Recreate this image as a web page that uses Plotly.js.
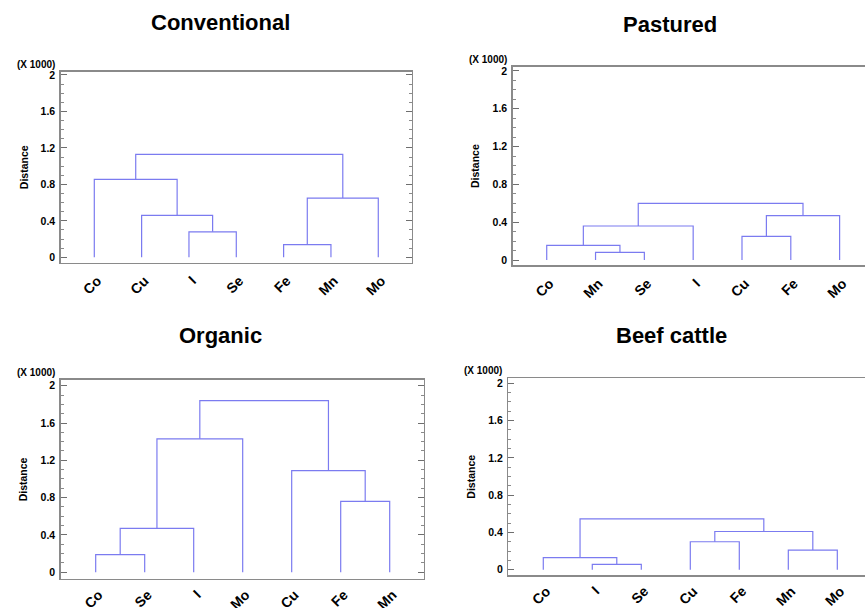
<!DOCTYPE html>
<html>
<head>
<meta charset="utf-8">
<script src="https://cdn.plot.ly/plotly-3.0.1.min.js"></script>
<style>html,body{margin:0;padding:0;background:#fff}#chart{width:865px;height:608px}</style>
</head>
<body>
<div id="chart"></div>
<script>
// ---- Data (distance in units of 1000) ----
const panelTitles = ["Conventional", "Pastured", "Organic", "Beef cattle"];

const conventionalLeaves = ["Co", "Cu", "I", "Se", "Fe", "Mn", "Mo"];
// merges: [childA, childB, height]; leaves 0..6, clusters 7+
const conventionalMerges = [[4, 5, 0.14], [2, 3, 0.28], [1, 8, 0.46], [7, 6, 0.65], [0, 9, 0.855], [11, 10, 1.13]];

const pasturedLeaves = ["Co", "Mn", "Se", "I", "Cu", "Fe", "Mo"];
const pasturedMerges = [[1, 2, 0.08], [0, 7, 0.155], [4, 5, 0.25], [8, 3, 0.36], [9, 6, 0.47], [10, 11, 0.60]];

const organicLeaves = ["Co", "Se", "I", "Mo", "Cu", "Fe", "Mn"];
const organicMerges = [[0, 1, 0.19], [7, 2, 0.47], [5, 6, 0.76], [4, 9, 1.09], [8, 3, 1.43], [11, 10, 1.84]];

const beefLeaves = ["Co", "I", "Se", "Cu", "Fe", "Mn", "Mo"];
const beefMerges = [[1, 2, 0.057], [0, 7, 0.13], [5, 6, 0.21], [3, 4, 0.30], [10, 9, 0.41], [8, 11, 0.545]];

const yTickVals = [0, 0.4, 0.8, 1.2, 1.6, 2];
const yTickText = ["0", "0.4", "0.8", "1.2", "1.6", "2"];

// ---- Styling / layout ----
const W = 865, H = 608;
const FONT = "Liberation Sans, Arial, Helvetica, sans-serif";
const LINK_COLOR = "#7b7bf0";
const FRAME = "#8a8a8a";

// pixel boxes: [left, right, top, bottom], x range, y range
const boxes = [
  {l: 60.7, r: 411.7, t: 71.7, b: 262.7, xr: [0.29, 7.706], yr: [-0.059, 2.036], mirrorY: true, titleX: 221, titleY: 23, distX: 24, stand: 3},
  {l: 512.7, r: 865, t: 66.7, b: 265.3, xr: [0.303, 7.52], yr: [-0.056, 2.045], mirrorY: false, titleX: 670, titleY: 24, distX: 475, stand: 3},
  {l: 60.7, r: 424, t: 380, b: 578.7, xr: [0.286, 7.70], yr: [-0.069, 2.061], mirrorY: true, titleX: 221, titleY: 335, distX: 23, stand: 1},
  {l: 508.3, r: 865, t: 378.3, b: 575, xr: [0.286, 7.565], yr: [-0.057, 2.054], mirrorY: false, titleX: 671, titleY: 335, distX: 471, stand: 1}
];

const panels = [
  {leaves: conventionalLeaves, merges: conventionalMerges},
  {leaves: pasturedLeaves, merges: pasturedMerges},
  {leaves: organicLeaves, merges: organicMerges},
  {leaves: beefLeaves, merges: beefMerges}
];

function dendroPath(leaves, merges) {
  const nx = leaves.map((_, i) => i + 1);
  const nh = leaves.map(() => 0);
  const xs = [], ys = [];
  merges.forEach(m => {
    const [a, b, h] = m;
    xs.push(nx[a], nx[a], nx[b], nx[b], null);
    ys.push(nh[a], h, h, nh[b], null);
    nx.push((nx[a] + nx[b]) / 2);
    nh.push(h);
  });
  return {xs, ys};
}

const traces = [];
const layout = {
  width: W, height: H,
  margin: {l: 0, r: 0, t: 0, b: 0},
  paper_bgcolor: "#fff", plot_bgcolor: "#fff",
  showlegend: false,
  font: {family: FONT, color: "#000"},
  annotations: []
};

panels.forEach((p, i) => {
  const bx = boxes[i];
  const k = i === 0 ? "" : String(i + 1);
  const path = dendroPath(p.leaves, p.merges);
  traces.push({
    type: "scatter", mode: "lines",
    x: path.xs, y: path.ys,
    xaxis: "x" + k, yaxis: "y" + k,
    line: {color: LINK_COLOR, width: 1.2},
    hoverinfo: "skip", connectgaps: false
  });
  layout["xaxis" + k] = {
    domain: [bx.l / W, Math.min(1, bx.r / W)],
    range: bx.xr, anchor: "y" + k,
    tickmode: "array", tickvals: p.leaves.map((_, j) => j + 1), ticktext: p.leaves,
    tickangle: -45, ticks: "", showgrid: false, zeroline: false,
    showline: true, linecolor: FRAME, linewidth: 1.6, mirror: true,
    tickfont: {family: FONT, size: 14, weight: "bold", color: "#000"},
    ticklabelstandoff: bx.stand, ticklabelshift: 3,
    fixedrange: true
  };
  layout["yaxis" + k] = {
    domain: [1 - bx.b / H, 1 - bx.t / H],
    range: bx.yr, anchor: "x" + k,
    tickmode: "array", tickvals: yTickVals, ticktext: yTickText,
    ticks: "inside", ticklen: 6, tickwidth: 1, tickcolor: "#6e6e6e",
    minor: {dtick: 0.1, tick0: 0, ticks: "inside", ticklen: 3, tickcolor: "#8a8a8a", tickwidth: 1, showgrid: false},
    showgrid: false, zeroline: false,
    showline: true, linecolor: FRAME, linewidth: 1.4, mirror: bx.mirrorY ? "ticks" : false,
    tickfont: {family: FONT, size: 10.5, weight: "bold", color: "#000"},
    ticklabelstandoff: 2,
    fixedrange: true
  };
  layout.annotations.push({
    xref: "paper", yref: "paper", x: bx.titleX / W, y: 1 - bx.titleY / H,
    xanchor: "center", yanchor: "middle", showarrow: false,
    text: panelTitles[i], font: {family: FONT, size: 22, weight: "bold", color: "#000"}
  });
  layout.annotations.push({
    xref: "paper", yref: "paper", x: (bx.l - 4) / W, y: 1 - (bx.t - 7.5) / H,
    xanchor: "right", yanchor: "middle", showarrow: false,
    text: "(X 1000)", font: {family: FONT, size: 10, weight: "bold", color: "#000"}
  });
  layout.annotations.push({
    xref: "paper", yref: "paper", x: bx.distX / W, y: 1 - ((bx.t + bx.b) / 2) / H,
    xanchor: "center", yanchor: "middle", showarrow: false, textangle: -90,
    text: "Distance", font: {family: FONT, size: 10.5, weight: "bold", color: "#000"}
  });
});

Plotly.newPlot("chart", traces, layout, {staticPlot: true, displayModeBar: false});
</script>
</body>
</html>
